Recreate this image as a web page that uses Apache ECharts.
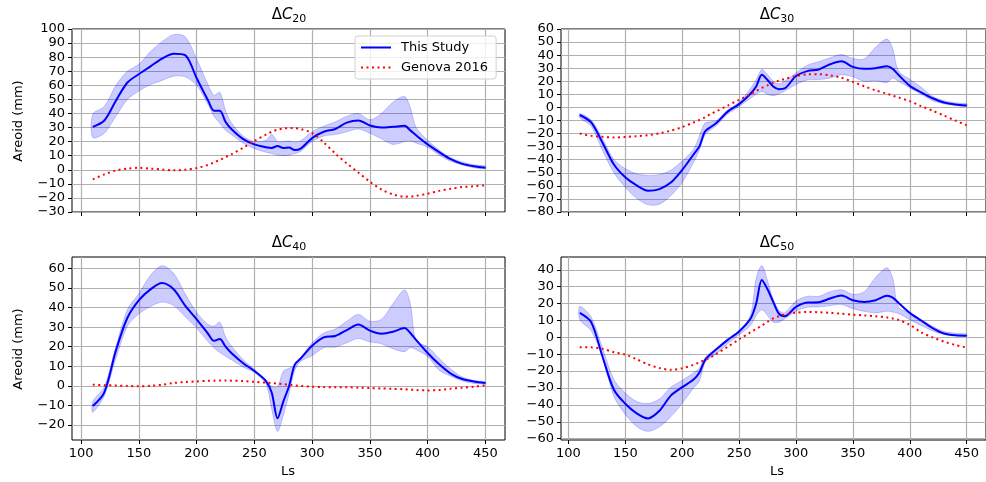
<!DOCTYPE html>
<html>
<head>
    <meta charset="utf-8">
    <title>Areoid</title>
    <script src="https://cdn.jsdelivr.net/npm/echarts@6.0.0/dist/echarts.min.js"></script>
    <style>
        body { margin: 0; background: #fff; }
        #main { width: 986px; height: 482px; }
    </style>
</head>
<body>
    <div id="main"></div>
    <script type="text/javascript">
        // solar longitude (Ls) sample points shared by all panels
        var ls = [110,120,130,140,150,160,170,180,190,200,210,215,220,225,230,240,250,260,265,270,275,280,285,290,300,310,320,330,340,350,360,370,380,385,390,400,410,420,430,440,450];

        var c20Line  = [30.5,35,49,62,68,73.5,79,82.5,81.5,65,49,42,42,34,29,22,18,16,15.5,16.8,15.5,15.8,14,15,22.5,27,29,33.5,35,31.5,30,30.5,31.2,28,24.5,18,12.5,7.5,4.2,2.5,1.5];
        var c20Upper = [39.5,45,60,70,75,84,91,96,94.5,78.6,60,53,55,42,33.5,24,20,21,25,20,20,20.5,19.5,20.5,27,31,34,38,40,35.5,40,48,52,44,30,21,14,8.6,5.5,3.5,2.7];
        var c20Lower = [23,26,38,50,56,60.5,63.5,66.5,66,60,46,38,33,28,25,19,15,12.5,11.5,10.5,10,10.5,11.5,13,20,24,25,27,29,26,22,18,20,20.5,19,16,10.5,6,3.5,1.5,0.8];
        var c20Genova = [-6.8,-3.3,-0.5,0.8,1.4,0.8,0.2,-0.4,0,1.2,3.5,5.3,7,9,11,15.5,20.5,25,27,28.5,29.3,29.6,29.5,29,26,19.5,11.5,4.5,-2,-8.5,-14,-17.5,-19.1,-19,-18.5,-17,-15,-13.5,-12.3,-11.7,-11];

        var c30Line  = [-5.8,-11.5,-27,-43.7,-53.5,-59.7,-63.7,-62.5,-57.5,-47.8,-36,-30,-18.5,-15,-12,-3.2,2.5,10.5,16,25,21,16,14,14.5,24,27.8,29,33,35.3,31,29.5,30,31.5,29.5,25,16.5,11.5,7,3.8,2.2,1.5];
        var c30Upper = [-4.7,-9.5,-24,-39.8,-46.8,-50.8,-52,-51.3,-48,-41,-32,-22,-12,-11,-10.2,-2,4,14.5,21,29,25,20,18,20,26.4,32.3,35,38,40.4,37.5,37,46,52.3,45,28,21.5,15.5,8.5,5.2,3.5,2.8];
        var c30Lower = [-8,-14.3,-33,-49.9,-61,-69.5,-74.5,-74,-67.5,-57.5,-42,-33,-21,-17,-14,-5,0.5,7,10,12.2,10,9,10.5,12.5,17.5,21,21.3,22.5,25,23.5,20,20.5,19,22.5,20,15,10,5.2,2.8,1.5,0.6];
        var c30Genova = [-20,-21.7,-22.5,-23,-22.6,-22,-21.3,-19.8,-17.8,-15,-11.5,-9.6,-7.5,-5,-3,1.4,5.8,10,12.5,15,16.9,18.8,20.5,21.7,24,25.3,25.4,24.5,22.7,19.5,16.2,13,10.5,9,7.7,4.8,1,-2.5,-6.2,-10,-13.6];

        var c40Line  = [-10.3,-3.3,18,34.8,43.8,49.3,52.5,49.3,41,34,26.5,23,24,20,16.8,11.7,7.6,2.5,-3.5,-16.5,-8,0,11,14,20.5,24.8,25.5,28.5,31.3,28.2,26.6,27.6,29.5,27,23.5,16.8,11,6.3,3.5,2.3,1.5];
        var c40Upper = [-7.9,-0.5,20,39,47.2,56.5,61.3,57.5,47,37.5,31.3,30.5,32.5,25,20.5,13.5,8.5,3,-0.3,-0.5,7.5,9,10.5,14.5,22,27,29,33,36.5,33,34,42,49,42,23,20,14,8.6,4.5,2.8,2];
        var c40Lower = [-13.4,-5,14,30.5,36.8,40.5,42.8,41,35.3,29.5,22.5,19.5,17,15.2,13.4,9.7,6.8,1,-12,-23.2,-15,-4,8,12.5,15.5,19.5,19.8,22,24.2,22.5,21.5,19,17.5,19.5,18.5,15,8,5,2.6,1.3,1];
        var c40Genova = [0.6,0.4,0.2,0,-0.2,0.1,0.6,1.5,2,2.3,2.6,2.7,2.8,2.8,2.7,2.5,2.1,1.7,1.5,1.2,0.9,0.6,0.3,0,-0.4,-0.6,-0.7,-0.7,-0.9,-1.1,-1.3,-1.5,-1.7,-1.9,-2.1,-2.3,-2.1,-1.4,-0.9,-0.4,0.3];

        var c50Line  = [14.5,9,-11.5,-31,-39.3,-45,-48,-43.5,-34.5,-29.5,-25,-21,-13.5,-10,-7,-1.5,3.5,11,20,34,28.5,21,14,12.5,18,20.6,20.8,23,24.8,22,21,22,24.6,23.5,20.5,14.5,10,5.5,2.3,1.2,1];
        var c50Upper = [18.4,12,-6.5,-25,-33,-38,-39.2,-36.5,-29.5,-25.5,-21,-18.3,-12.3,-9,-7,-0.8,4,13,35,42.5,33.5,22.5,16,14.5,21.5,24.3,24.3,27,28.2,25.5,27,35.5,41.2,35,18,14.4,10.5,6.5,3.5,2.5,1.9];
        var c50Lower = [10.5,4,-12,-35,-45.5,-52.8,-55.7,-53,-47,-39,-30,-26,-15,-12,-9.8,-3.8,1.5,7,13,16.3,13,9,9,11,15.5,17.8,18,18.8,19.5,17,15.4,14.5,15.5,15,14.2,10.5,7,3.8,1.8,1,0.6];
        var c50Genova = [-5.8,-5.9,-6.8,-8.8,-10.2,-13,-16,-18.2,-19.2,-18.3,-16.3,-14.8,-13.4,-11.8,-9.8,-5.6,-1.2,3,5,7,9.3,11.2,12.5,13.5,14.6,15,14.9,14.5,14,13.4,13,12.5,11.8,11.2,10.4,7.5,3,0,-2.5,-4.5,-6];

        var xTicks = [100,150,200,250,300,350,400,450];
        var yTicks40 = [-20,-10,0,10,20,30,40,50,60];
        var yTicks50 = [-60,-50,-40,-30,-20,-10,0,10,20,30,40];

        var font = 'DejaVu Sans';
        var myChart = echarts.init(document.getElementById('main'), null, {renderer: 'canvas'});

        function minus(v) { return String(v).replace('-', '\u2212'); }
        function pair(ys) { return ls.map(function (x, k) { return [x, ys[k]]; }); }

        function xAxis(i, min, showLabel) {
            return {
                type: 'value', gridIndex: i, min: min, max: 467,
                axisLine: {show: false, onZero: false},
                axisTick: {show: true, length: 4, customValues: xTicks, lineStyle: {color: '#000', width: 1}},
                axisLabel: {show: showLabel, customValues: xTicks, margin: 7, color: '#000', fontFamily: font, fontSize: 13},
                splitLine: {show: true, lineStyle: {color: '#b0b0b0', width: 1.2}}
            };
        }
        function yAxis(i, min, max, ticks) {
            var ax = {
                type: 'value', gridIndex: i, min: min, max: max,
                axisLine: {show: false, onZero: false},
                axisTick: {show: true, length: 4, lineStyle: {color: '#000', width: 1}},
                axisLabel: {margin: 7, color: '#000', fontFamily: font, fontSize: 13, formatter: minus},
                splitLine: {show: true, lineStyle: {color: '#b0b0b0', width: 1.2}}
            };
            if (ticks) {
                ax.axisTick.customValues = ticks;
                ax.axisLabel.customValues = ticks;
            } else {
                ax.interval = 10;
            }
            return ax;
        }

        function panel(i, line, upper, lower, genova) {
            return [
                // shaded spread between upper and lower curves
                {name: 'band' + i, type: 'custom', xAxisIndex: i, yAxisIndex: i, data: [0], silent: true,
                 renderItem: function (params, api) {
                     var pts = [], k;
                     for (k = 0; k < ls.length; k++) pts.push(api.coord([ls[k], upper[k]]));
                     for (k = ls.length - 1; k >= 0; k--) pts.push(api.coord([ls[k], lower[k]]));
                     return {
                         type: 'polygon',
                         shape: {points: pts, smooth: 0.3},
                         style: {fill: 'rgba(0,0,255,0.2)', stroke: 'rgba(0,0,255,0.2)', lineWidth: 1}
                     };
                 }},
                {name: 'This Study', type: 'line', xAxisIndex: i, yAxisIndex: i, data: pair(line),
                 symbol: 'none', smooth: 0.3, itemStyle: {color: '#0000ff'}, lineStyle: {color: '#0000ff', width: 2}},
                {name: 'Genova 2016', type: 'line', xAxisIndex: i, yAxisIndex: i, data: pair(genova),
                 symbol: 'none', smooth: 0.3, itemStyle: {color: '#ff0000'},
                 lineStyle: {color: '#ff0000', width: 2, type: [2, 3.5], cap: 'butt'}}
            ];
        }

        function title(x, y, sub) {
            return {
                type: 'text', x: x, y: y,
                style: {
                    text: '{d|\u0394}{c|C}{s|' + sub + '}',
                    align: 'center', verticalAlign: 'middle',
                    rich: {
                        d: {fontFamily: font, fontSize: 15, color: '#000', lineHeight: 20},
                        c: {fontFamily: font, fontSize: 15, fontStyle: 'italic', color: '#000', lineHeight: 20},
                        s: {fontFamily: font, fontSize: 11, color: '#000', lineHeight: 20, verticalAlign: 'bottom'}
                    }
                }
            };
        }
        function label(x, y, text, rot) {
            return {
                type: 'text', x: x, y: y, rotation: rot || 0,
                style: {text: text, fontFamily: font, fontSize: 13, fill: '#000', align: 'center', verticalAlign: 'middle'}
            };
        }

        var frame = {show: true, borderColor: '#000', borderWidth: 1, backgroundColor: 'transparent'};

        var option = {
            animation: false,
            backgroundColor: '#fff',
            grid: [
                Object.assign({left: 72, top: 29, width: 433, height: 183}, frame),
                Object.assign({left: 561, top: 29, width: 433, height: 183}, frame),
                Object.assign({left: 72, top: 257, width: 433, height: 183}, frame),
                Object.assign({left: 561, top: 257, width: 433, height: 183}, frame)
            ],
            xAxis: [xAxis(0, 92, false), xAxis(1, 93.5, false), xAxis(2, 92, true), xAxis(3, 93.5, true)],
            yAxis: [yAxis(0, -30, 100), yAxis(1, -80, 60), yAxis(2, -27.6, 65.8, yTicks40), yAxis(3, -60.8, 47.6, yTicks50)],
            legend: {
                data: ['This Study', 'Genova 2016'],
                left: 355, top: 36, orient: 'vertical',
                padding: [5, 8, 5, 5], itemGap: 7, itemWidth: 30, itemHeight: 14,
                itemStyle: {opacity: 0},
                textStyle: {fontFamily: font, fontSize: 13, color: '#000', padding: [0, 0, 0, 5]},
                borderColor: '#d0d0d0', borderWidth: 1, borderRadius: 3,
                backgroundColor: 'rgba(255,255,255,0.8)'
            },
            graphic: [
                title(289, 15, '20'), title(777, 15, '30'),
                title(289, 243, '40'), title(777, 243, '50'),
                label(19, 121, 'Areoid (mm)', Math.PI / 2),
                label(19, 349, 'Areoid (mm)', Math.PI / 2),
                label(288, 472, 'Ls'), label(777, 472, 'Ls')
            ],
            series: [].concat(
                panel(0, c20Line, c20Upper, c20Lower, c20Genova),
                panel(1, c30Line, c30Upper, c30Lower, c30Genova),
                panel(2, c40Line, c40Upper, c40Lower, c40Genova),
                panel(3, c50Line, c50Upper, c50Lower, c50Genova)
            )
        };

        myChart.setOption(option);
    </script>
</body>
</html>
